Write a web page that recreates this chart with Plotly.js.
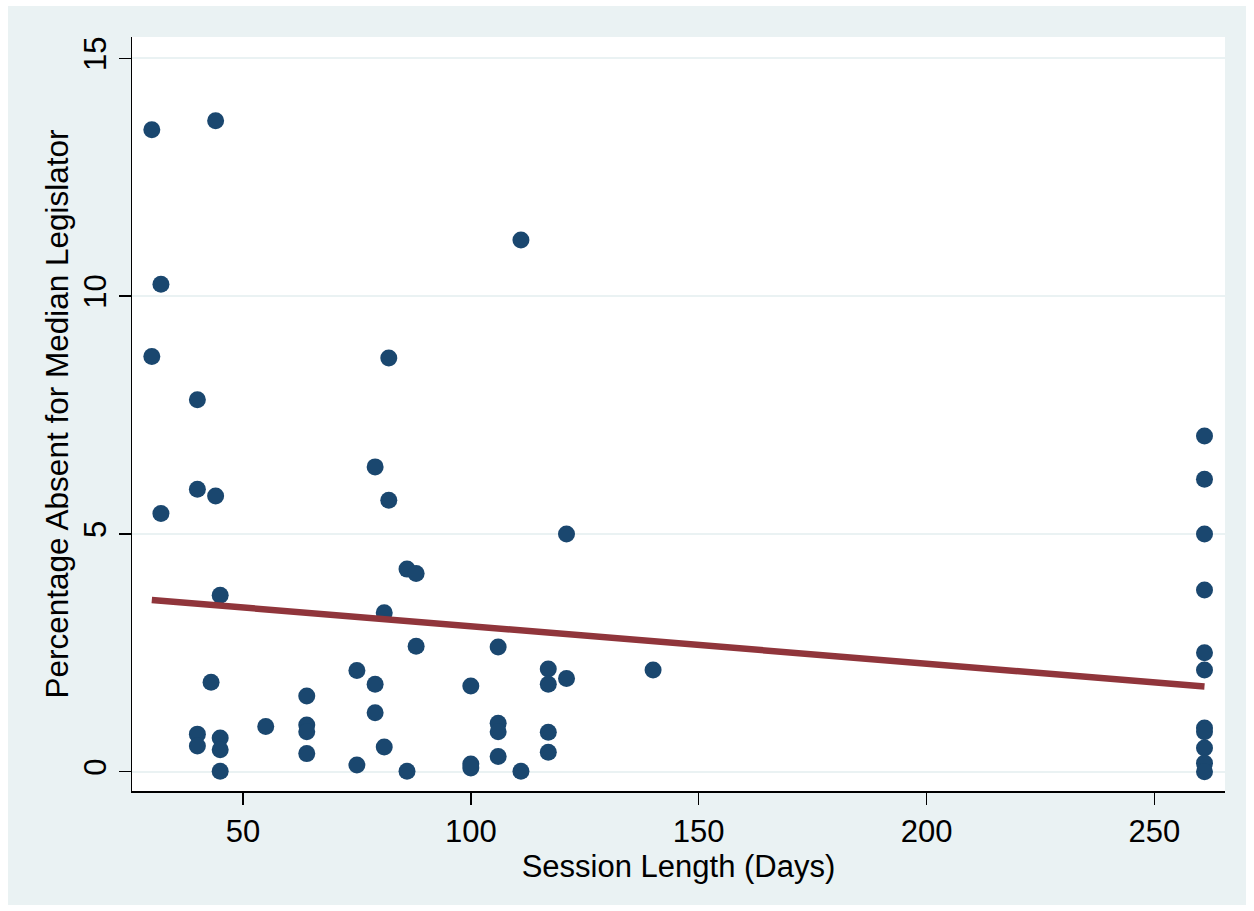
<!DOCTYPE html>
<html>
<head>
<meta charset="utf-8">
<script src="https://cdn.plot.ly/plotly-3.0.1.min.js"></script>
<style>
  html, body { margin: 0; padding: 0; background: #ffffff; width: 1254px; height: 911px; overflow: hidden; }
  #chart { position: absolute; left: 8px; top: 6px; width: 1238px; height: 899px; }
</style>
</head>
<body>
<div id="chart"></div>
<script>
// Session length (days) for each observation
const sessionDays = [
  30, 44, 32, 30, 40, 82, 79, 40, 44, 82, 32,
  45, 43, 40, 40, 45, 45, 45,
  55, 64, 64, 64, 64,
  75, 75, 79, 79, 81, 81, 86, 86, 88, 88,
  100, 100, 100,
  106, 106, 106, 106,
  111, 111,
  117, 117, 117, 117,
  121, 121, 140,
  261, 261, 261, 261, 261, 261, 261, 261, 261, 261, 261
];
// Percentage absent for the median legislator
const pctAbsent = [
  13.50, 13.69, 10.25, 8.73, 7.82, 8.70, 6.41, 5.94, 5.80, 5.71, 5.43,
  3.71, 1.88, 0.79, 0.54, 0.71, 0.46, 0.01,
  0.95, 1.59, 0.98, 0.84, 0.38,
  2.13, 0.14, 1.84, 1.24, 3.34, 0.52, 4.26, 0.01, 4.17, 2.64,
  1.80, 0.16, 0.08,
  2.62, 1.02, 0.84, 0.32,
  11.18, 0.01,
  2.16, 1.84, 0.83, 0.41,
  5.00, 1.96, 2.14,
  7.06, 6.15, 5.00, 3.82, 2.50, 2.14, 0.92, 0.84, 0.50, 0.18, 0.00
];
// Linear fit line end points
const fitX = [30, 261];
const fitY = [3.61, 1.79];

const xTicks = [50, 100, 150, 200, 250];
const yTicks = [0, 5, 10, 15];

const FONT = 'Liberation Sans, Arial, Helvetica, sans-serif';

const traces = [
  {
    type: 'scatter', mode: 'markers',
    x: sessionDays, y: pctAbsent,
    marker: { color: '#1a476f', size: 17, line: { width: 0 } },
    hoverinfo: 'x+y', showlegend: false
  },
  {
    type: 'scatter', mode: 'lines',
    x: fitX, y: fitY,
    line: { color: '#90353b', width: 6.5 },
    showlegend: false
  }
];

const layout = {
  width: 1238, height: 899,
  paper_bgcolor: '#eaf2f3',
  plot_bgcolor: '#ffffff',
  margin: { l: 124, r: 21, t: 31, b: 114, pad: 0 },
  font: { family: FONT, color: '#000000', size: 31 },
  showlegend: false,
  xaxis: {
    range: [25.65, 265.5],
    tickmode: 'array', tickvals: xTicks, ticktext: xTicks.map(String),
    showgrid: false, zeroline: false,
    showline: true, linecolor: '#000000', linewidth: 1.5,
    ticks: 'outside', ticklen: 12, tickwidth: 1.5, tickcolor: '#000000',
    tickfont: { family: FONT, size: 31, color: '#000000' },
    title: { text: 'Session Length (Days)', font: { family: FONT, size: 31, color: '#000000' }, standoff: 0 }
  },
  yaxis: {
    range: [-0.406, 15.45],
    tickmode: 'array', tickvals: yTicks, ticktext: yTicks.map(String),
    tickangle: -90,
    showgrid: true, gridcolor: '#eaf2f3', gridwidth: 2,
    zeroline: false,
    showline: true, linecolor: '#000000', linewidth: 1.5,
    ticks: 'outside', ticklen: 12, tickwidth: 1.5, tickcolor: '#000000',
    tickfont: { family: FONT, size: 31, color: '#000000' },
    title: { text: 'Percentage Absent for Median Legislator', font: { family: FONT, size: 31.5, color: '#000000' }, standoff: 0 }
  }
};

Plotly.newPlot('chart', traces, layout, { displayModeBar: false, staticPlot: true });
</script>
</body>
</html>
